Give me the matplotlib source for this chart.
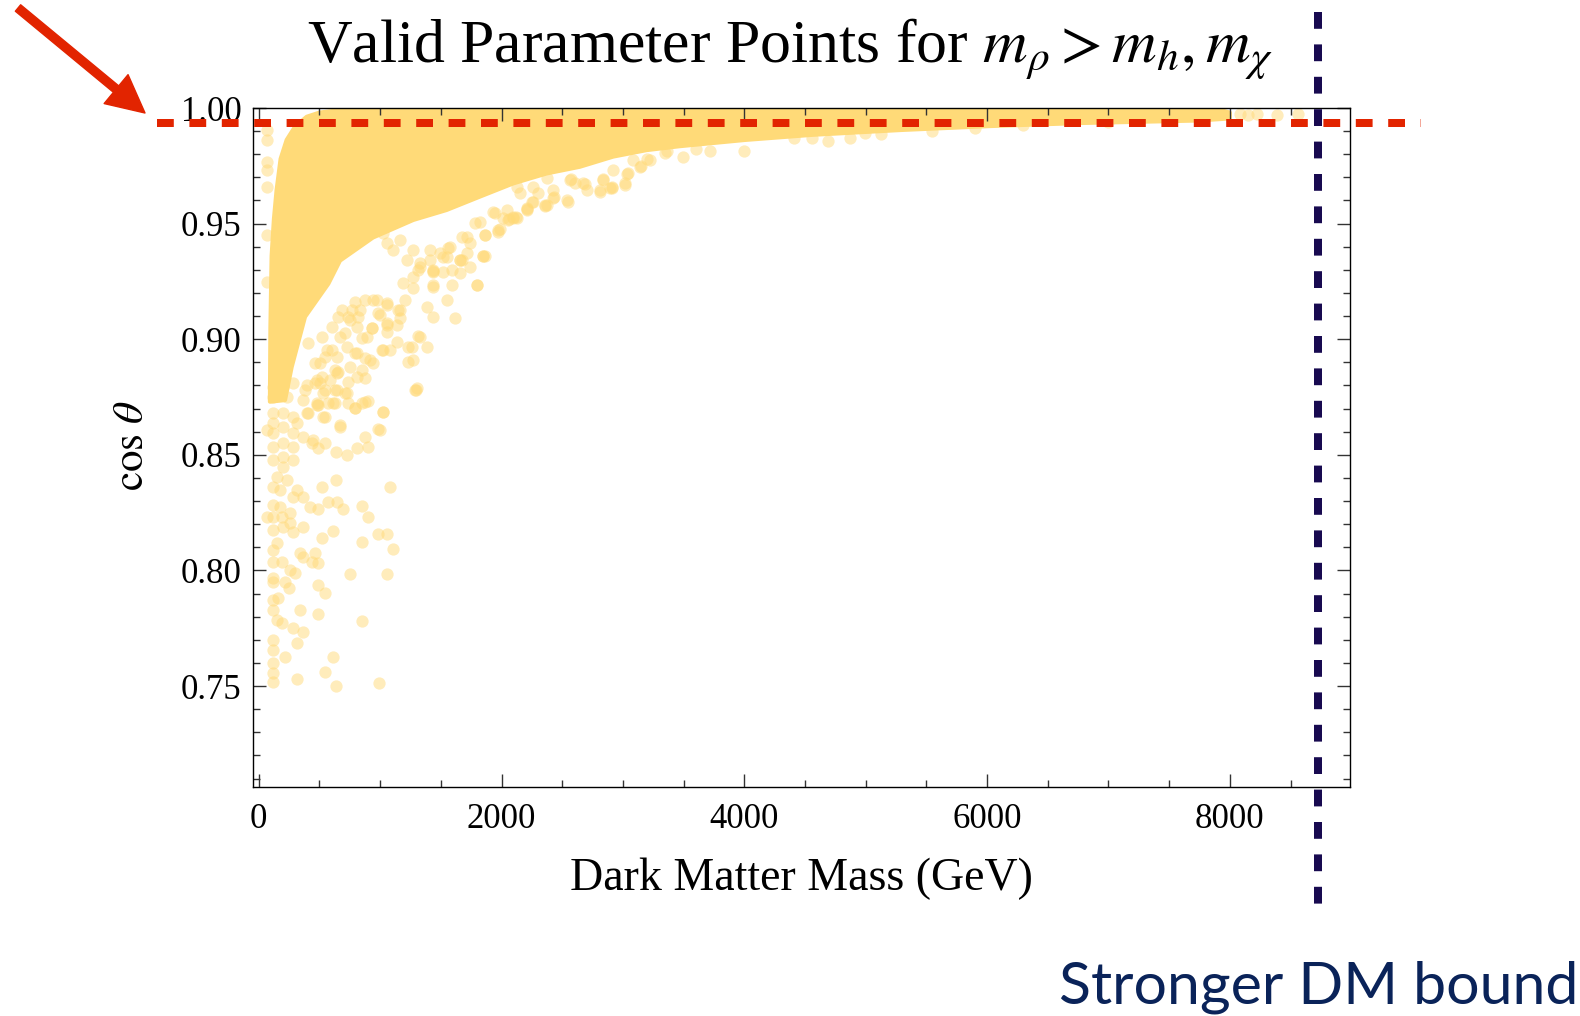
import numpy as np
import matplotlib.pyplot as plt
from matplotlib.patches import FancyArrowPatch, ArrowStyle
from matplotlib.transforms import blended_transform_factory

plt.rcParams['font.family'] = ['Liberation Serif', 'DejaVu Serif']
plt.rcParams['mathtext.fontset'] = 'stix'

W, H, DPI = 1580, 1016, 100

# outline of the saturated band of points (GeV, cos theta)
band_top = np.array([
    (92, 0.873), (96, 0.905), (106, 0.936), (125, 0.952), (147, 0.9645),
    (180, 0.978), (230, 0.9862), (300, 0.992), (395, 0.9962), (500, 0.998),
    (669, 0.9991), (1000, 0.9995), (4000, 0.9996), (7900, 0.9995), (8000, 0.998),
])
band_bottom = np.array([
    (92, 0.873), (216, 0.8737), (271, 0.888), (381, 0.9097), (573, 0.924),
    (669, 0.934), (941, 0.944), (1273, 0.9516), (1547, 0.9559), (1822, 0.9617),
    (2096, 0.9674), (2371, 0.9717), (2645, 0.9746), (2920, 0.979), (3195, 0.9818),
    (3469, 0.9835), (4007, 0.9862), (4558, 0.9884), (5292, 0.9905), (6026, 0.9922),
    (6760, 0.9935), (7745, 0.9946), (8000, 0.9955),
])

# single points outside the band
left_column = np.array([
    (65, 0.9905), (65, 0.9862), (65, 0.9768), (65, 0.9732), (65, 0.9660),
    (65, 0.9451), (65, 0.9249), (65, 0.8608), (65, 0.8232),
])
low_cluster = np.array([
    (120, 0.8795), (202, 0.8795), (284, 0.8810), (395, 0.8802), (504, 0.8810),
    (641, 0.8781), (724, 0.8766), (531, 0.8766), (120, 0.8752), (230, 0.8752),
    (367, 0.8737), (477, 0.8723), (614, 0.8723), (120, 0.8680), (202, 0.8680),
    (284, 0.8665), (395, 0.8680), (531, 0.8665), (120, 0.8637), (202, 0.8622),
    (284, 0.8593), (367, 0.8579), (449, 0.8564), (120, 0.8593), (202, 0.8550),
    (284, 0.8536), (120, 0.8536), (202, 0.8492), (284, 0.8478), (120, 0.8478),
    (202, 0.8449), (147, 0.8406), (230, 0.8391), (120, 0.8363), (175, 0.8348),
    (312, 0.8348), (367, 0.8319), (284, 0.8319), (669, 0.8622), (545, 0.8550),
    (436, 0.8550), (490, 0.8528), (793, 0.8701), (875, 0.8730), (477, 0.8716),
    (1292, 0.8780), (1026, 0.8687), (998, 0.8607), (875, 0.8578), (902, 0.8535),
    (806, 0.8528), (724, 0.8499), (636, 0.8513), (636, 0.8391), (1081, 0.8359),
    (518, 0.8359), (573, 0.8297), (641, 0.8297), (696, 0.8264), (847, 0.8279),
    (902, 0.8232), (490, 0.8264), (422, 0.8276), (985, 0.8156), (1053, 0.8156),
    (847, 0.8124), (1108, 0.8093), (608, 0.8172), (518, 0.8139), (367, 0.8189),
    (463, 0.8077), (490, 0.8031), (751, 0.7983), (1053, 0.7983), (545, 0.7904),
    (485, 0.7937), (339, 0.7829), (485, 0.7810), (847, 0.7781), (367, 0.7732),
    (279, 0.7750), (312, 0.7687), (608, 0.7624), (545, 0.7561), (312, 0.7529),
    (636, 0.7500), (993, 0.7514), (216, 0.7624), (120, 0.7598), (120, 0.7555),
    (120, 0.7519), (120, 0.7656), (120, 0.7829), (147, 0.7785), (189, 0.7771),
    (120, 0.7872), (161, 0.7879), (251, 0.7923), (216, 0.7951), (120, 0.7966),
    (298, 0.7987), (257, 0.8002), (189, 0.8038), (120, 0.8088), (120, 0.8038),
    (120, 0.8175), (202, 0.8189), (284, 0.8167), (120, 0.8232), (189, 0.8232),
    (257, 0.8247), (175, 0.8276), (120, 0.8283), (257, 0.8204), (339, 0.8074),
    (367, 0.8059), (436, 0.8038), (120, 0.7700), (120, 0.7950), (147, 0.8120),
    (408, 0.8679), (312, 0.8636), (545, 0.8665), (669, 0.8629), (985, 0.8614),
    (573, 0.8723), (490, 0.8715), (628, 0.8723), (737, 0.8723), (792, 0.8701),
    (848, 0.8723), (902, 0.8734), (1026, 0.8686), (710, 0.8766),
])
mid_curve = np.array([
    (1616, 0.9093), (1795, 0.9234), (1589, 0.9234), (1740, 0.9314), (1850, 0.9360),
    (1657, 0.9342), (1520, 0.9292), (1437, 0.9292), (1437, 0.9227), (1273, 0.9220),
    (1204, 0.9169), (1053, 0.9148), (971, 0.9169), (998, 0.9105), (1163, 0.9126),
    (1328, 0.9011), (1232, 0.8968), (1383, 0.8968), (1273, 0.8910), (1300, 0.8787),
    (1136, 0.8989), (1026, 0.8953), (943, 0.8896), (1053, 0.9069), (930, 0.9047),
    (889, 0.9011), (806, 0.9054), (834, 0.9126), (751, 0.9083), (669, 0.9011),
    (724, 0.8968), (806, 0.8939), (641, 0.8924), (559, 0.8953), (751, 0.8881),
    (806, 0.8838), (641, 0.8852), (586, 0.8823), (504, 0.8896), (477, 0.8823),
    (1437, 0.9097), (1383, 0.9141), (1548, 0.9169), (1273, 0.9270), (1190, 0.9242),
    (1328, 0.9328), (1493, 0.9371), (1575, 0.9400), (1713, 0.9443), (1863, 0.9451),
    (1973, 0.9465), (2096, 0.9523), (2207, 0.9566), (2096, 0.9530), (2014, 0.9523),
    (2042, 0.9559), (1946, 0.9545), (1781, 0.9501), (2261, 0.9595), (2358, 0.9581),
    (2426, 0.9609), (2549, 0.9595), (2701, 0.9645), (2811, 0.9645), (2893, 0.9653),
    (3016, 0.9674), (3044, 0.9717), (2605, 0.9674), (2426, 0.9645), (2372, 0.9696),
    (2261, 0.9660), (2539, 0.9600), (2429, 0.9614), (2356, 0.9578), (2209, 0.9564),
    (2062, 0.9521), (1989, 0.9478), (2117, 0.9528), (2833, 0.9693), (2686, 0.9671),
    (2576, 0.9693), (3200, 0.9778), (3145, 0.9750), (3035, 0.9714), (2906, 0.9657),
    (3494, 0.9786), (3714, 0.9814), (4000, 0.9814), (3365, 0.9814), (3604, 0.9821),
    (4411, 0.9871), (4558, 0.9871), (4686, 0.9857), (4870, 0.9871), (4998, 0.9893),
    (5127, 0.9886), (5549, 0.9900),
    (1849, 0.9360), (1795, 0.9234), (1438, 0.9234), (1438, 0.9296), (1671, 0.9343),
    (1548, 0.9357), (1410, 0.9343), (1314, 0.9299), (1149, 0.9126), (1163, 0.9090),
    (1054, 0.9155), (1054, 0.9032), (985, 0.9112), (943, 0.9170), (875, 0.9170),
    (792, 0.9162), (820, 0.9097), (930, 0.9047), (848, 0.9004), (1012, 0.8953),
    (1081, 0.8953), (1259, 0.8968), (1314, 0.9014), (1232, 0.8903), (1287, 0.8780),
    (1054, 0.9061), (1136, 0.9061), (792, 0.8939), (875, 0.8917), (916, 0.8910),
    (848, 0.8867), (875, 0.8831), (737, 0.8816), (655, 0.8859), (628, 0.8867),
    (545, 0.8924), (463, 0.8896), (408, 0.8982), (518, 0.9011), (600, 0.9054),
    (655, 0.9097), (683, 0.9126), (463, 0.8809), (380, 0.8780), (518, 0.8838),
    (600, 0.8953), (710, 0.9025), (737, 0.9097), (765, 0.9126), (628, 0.8780),
    (545, 0.8780),
    (1863, 0.9360), (1437, 0.9299), (1589, 0.9299), (1657, 0.9343), (1712, 0.9372),
    (1561, 0.9393), (1740, 0.9415), (1863, 0.9451), (1973, 0.9472), (2124, 0.9523),
    (2055, 0.9516), (2207, 0.9559), (2248, 0.9595), (2371, 0.9581), (2302, 0.9631),
    (2124, 0.9660), (2151, 0.9631), (2810, 0.9638), (2907, 0.9653), (3016, 0.9667),
    (3140, 0.9746), (2563, 0.9689), (2673, 0.9674), (2838, 0.9689), (2920, 0.9732),
    (3085, 0.9775), (3222, 0.9775), (3346, 0.9804), (1328, 0.9314), (1218, 0.9343),
    (1410, 0.9386), (1520, 0.9357), (1657, 0.9285), (1273, 0.9386), (1163, 0.9429),
    (1108, 0.9386), (1053, 0.9415), (1026, 0.9458), (1671, 0.9443), (1822, 0.9508),
    (1932, 0.9551),
])
far_right = np.array([
    (5900, 0.9915), (6300, 0.9925), (7000, 0.9938), (8082, 0.9975), (8148, 0.9970),
    (8222, 0.9972), (8387, 0.9970), (8560, 0.9972),
])

cut_cos = 0.9936   # horizontal red line
dm_bound = 8730    # vertical dark line, GeV

x_ticks = [0, 2000, 4000, 6000, 8000]
y_ticks = [0.75, 0.80, 0.85, 0.90, 0.95, 1.00]

yellow = '#FFDA78'
red = '#E22400'
navy = '#180A50'

fig = plt.figure(figsize=(W / DPI, H / DPI), dpi=DPI)
ax = fig.add_axes([252.7 / W, 1 - 786.7 / H, (1350 - 252.7) / W, (786.7 - 108) / H])

outline = np.vstack([band_top, band_bottom[::-1]])
ax.fill(outline[:, 0], outline[:, 1], fc=yellow, ec=yellow, lw=3, joinstyle='round', zorder=1)

pts = np.vstack([left_column, low_cluster, mid_curve, far_right])
ax.scatter(pts[:, 0], pts[:, 1], s=78, c=yellow, alpha=0.5, lw=0, zorder=1.2)

ax.set_xlim(-50, 8990)
ax.set_ylim(0.7065, 1.0)
ax.set_xticks(x_ticks)
ax.set_xticks(np.arange(0, 9000, 500), minor=True)
ax.set_yticks(y_ticks)
ax.set_yticklabels(['%.2f' % v for v in y_ticks])
ax.set_yticks(np.arange(0.71, 1.0, 0.01), minor=True)
ax.tick_params(which='both', direction='in', top=True, right=True,
               color='#333333', width=1.0, labelsize=25)
ax.tick_params(which='major', length=9.5)
ax.tick_params(which='minor', length=5)
ax.tick_params(axis='x', pad=12)
ax.tick_params(axis='y', pad=8)
for s in ax.spines.values():
    s.set_linewidth(1.0)

ax.set_xlabel('Dark Matter Mass (GeV)', fontsize=33)
ax.xaxis.set_label_coords(0.5, -0.136)
ax.xaxis.label.set_va('center')
ax.set_ylabel(r'$\cos\,\theta$', fontsize=31)
ax.yaxis.set_label_coords(-0.109, 0.502)
ax.yaxis.label.set_va('center')

fig.text(790 / W, 1 - 62 / H, r'Valid Parameter Points for $m_\rho > m_h, m_\chi$',
         fontsize=44.5, ha='center', va='baseline')

# dashed guide lines running past the frame
hline_tr = blended_transform_factory(fig.transFigure, ax.transData)
ax.plot([157 / W, 1421 / W], [cut_cos, cut_cos], transform=hline_tr, color=red,
        lw=5.76, ls=(0, (2.1, 1.95)), clip_on=False, zorder=5)
vline_tr = blended_transform_factory(ax.transData, fig.transFigure)
ax.plot([dm_bound, dm_bound], [1 - 12 / H, 1 - 915 / H], transform=vline_tr, color=navy,
        lw=5.76, ls=(0, (2.1, 1.95)), clip_on=False, zorder=5)

arrow = FancyArrowPatch((18 / W, 1 - 8 / H), (145 / W, 1 - 113 / H),
                        transform=fig.transFigure,
                        arrowstyle=ArrowStyle.Simple(head_length=27, head_width=27, tail_width=6),
                        mutation_scale=1, color=red, shrinkA=0, shrinkB=0)
fig.add_artist(arrow)

fig.text(1059 / W, 1 - 1003 / H, 'Stronger DM bound', family=['Lato', 'DejaVu Sans'],
         fontsize=42.5, color='#0A2359', ha='left', va='baseline')

fig.savefig('out.png', dpi=DPI)
